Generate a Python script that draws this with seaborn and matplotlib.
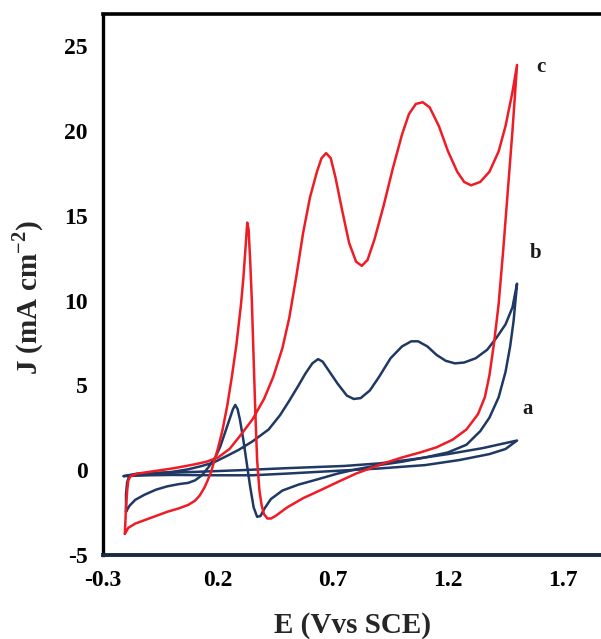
import numpy as np
import pandas as pd
import seaborn as sns
import matplotlib
matplotlib.use("Agg")
import matplotlib.pyplot as plt

# curve c (red), closed loop: lower branch left->right, then upper branch right->left
E_c = [-0.205, -0.19, -0.16, -0.12, -0.06, -0.02, 0.03, 0.07, 0.10, 0.12, 0.14, 0.155,
       0.17, 0.185, 0.20, 0.22, 0.24, 0.26, 0.28, 0.30, 0.31, 0.32, 0.327, 0.333, 0.34,
       0.347, 0.355, 0.362, 0.37, 0.38, 0.39, 0.40, 0.415, 0.43, 0.45, 0.50, 0.57, 0.65,
       0.72, 0.80, 0.85, 0.92, 1.00, 1.08, 1.15, 1.22, 1.28, 1.33, 1.36, 1.38, 1.40, 1.42,
       1.44, 1.46, 1.48, 1.50,
       1.48, 1.45, 1.42, 1.38, 1.34, 1.30, 1.27, 1.24, 1.20, 1.16, 1.12, 1.09, 1.06, 1.03,
       1.00, 0.96, 0.92, 0.88, 0.85, 0.825, 0.80, 0.77, 0.74, 0.71, 0.69, 0.67, 0.65, 0.63,
       0.60, 0.57, 0.54, 0.51, 0.48, 0.44, 0.40, 0.35, 0.30, 0.25, 0.20, 0.15, 0.10, 0.05,
       0.0, -0.05, -0.10, -0.15, -0.18, -0.19, -0.195, -0.20, -0.205]
J_c = [-3.75, -3.4, -3.15, -2.95, -2.65, -2.45, -2.25, -2.05, -1.8, -1.5, -1.05, -0.6,
       -0.1, 0.6, 1.3, 2.4, 3.8, 5.5, 7.4, 9.8, 11.3, 13.2, 14.6, 14.2, 12.3,
       10.0, 6.5, 3.5, 0.6, -1.2, -2.1, -2.6, -2.85, -2.85, -2.7, -2.2, -1.65, -1.15,
       -0.7, -0.2, 0.05, 0.4, 0.75, 1.05, 1.35, 1.8, 2.4, 3.3, 4.3, 5.6, 7.5, 9.8,
       13.0, 16.5, 20.0, 23.9,
       22.3, 20.3, 18.8, 17.6, 17.0, 16.8, 17.0, 17.6, 18.8, 20.3, 21.4, 21.7, 21.6, 21.0,
       19.8, 17.8, 15.6, 13.6, 12.4, 12.05, 12.3, 13.4, 15.3, 17.3, 18.4, 18.7, 18.4, 17.6,
       16.1, 14.0, 11.4, 9.0, 7.2, 5.5, 4.2, 3.0, 2.1, 1.25, 0.75, 0.5, 0.35, 0.22,
       0.1, 0.0, -0.1, -0.2, -0.35, -0.6, -1.2, -2.2, -3.75]

# curve b (navy)
E_b = [-0.20, -0.185, -0.16, -0.12, -0.07, -0.02, 0.03, 0.07, 0.10, 0.13, 0.16, 0.19,
       0.21, 0.23, 0.25, 0.265, 0.275, 0.285, 0.295, 0.31, 0.325, 0.34, 0.355, 0.37,
       0.385, 0.40, 0.43, 0.48, 0.55, 0.63, 0.72, 0.80, 0.90, 1.00, 1.10, 1.20, 1.28,
       1.34, 1.38, 1.42, 1.45, 1.47, 1.485, 1.50,
       1.48, 1.45, 1.41, 1.37, 1.32, 1.27, 1.23, 1.19, 1.15, 1.11, 1.07, 1.04, 1.00, 0.95,
       0.90, 0.86, 0.82, 0.79, 0.76, 0.72, 0.68, 0.655, 0.635, 0.61, 0.58, 0.55, 0.51,
       0.47, 0.42, 0.35, 0.29, 0.24, 0.18, 0.13, 0.07, 0.0, -0.08, -0.15, -0.185, -0.195,
       -0.20, -0.20]
J_b = [-2.45, -2.1, -1.75, -1.45, -1.15, -0.95, -0.82, -0.75, -0.6, -0.3, 0.2, 0.8,
       1.4, 2.2, 3.0, 3.6, 3.85, 3.6, 3.0, 1.8, 0.4, -1.0, -2.2, -2.75,
       -2.7, -2.3, -1.7, -1.2, -0.85, -0.55, -0.2, 0.05, 0.3, 0.5, 0.75, 1.05, 1.5,
       2.3, 3.1, 4.3, 5.8, 7.3, 8.8, 11.0,
       9.6, 8.6, 7.8, 7.1, 6.6, 6.35, 6.3, 6.45, 6.8, 7.3, 7.6, 7.6, 7.3, 6.6,
       5.5, 4.7, 4.25, 4.2, 4.4, 5.1, 5.9, 6.4, 6.55, 6.3, 5.7, 5.0, 4.1,
       3.25, 2.4, 1.7, 1.2, 0.85, 0.45, 0.25, 0.05, -0.1, -0.2, -0.25, -0.3, -0.7,
       -1.4, -2.45]

# curve a (navy, small loop)
E_a = [-0.21, -0.10, 0.0, 0.2, 0.35, 0.5, 0.7, 0.9, 1.1, 1.25, 1.38, 1.45, 1.50,
       1.45, 1.35, 1.2, 1.05, 0.9, 0.75, 0.5, 0.3, 0.1, -0.05, -0.15, -0.21]
J_a = [-0.35, -0.3, -0.28, -0.3, -0.3, -0.2, -0.05, 0.1, 0.3, 0.6, 0.95, 1.25, 1.75,
       1.6, 1.3, 0.95, 0.65, 0.4, 0.25, 0.12, 0.0, -0.1, -0.15, -0.2, -0.35]

curve_names = ["a", "b", "c"]
label_pos_E = [1.525, 1.555, 1.585]
label_pos_J = [3.6, 12.8, 23.8]

red = "#ee1c25"
navy = "#1f3864"

sns.set_style("white")
plt.rcParams["font.family"] = ["Liberation Serif", "DejaVu Serif"]
plt.rcParams["font.weight"] = "bold"
plt.rcParams["mathtext.fontset"] = "custom"
plt.rcParams["mathtext.rm"] = "Liberation Serif:bold"
plt.rcParams["mathtext.bf"] = "Liberation Serif:bold"

fig = plt.figure(figsize=(6.01, 6.39), dpi=100)
ax = fig.add_axes([0.1714, 0.1315, 0.8286, 0.8465])

sns.lineplot(x=E_a, y=J_a, sort=False, estimator=None, color=navy, lw=1.8, ax=ax)
sns.lineplot(x=E_b, y=J_b, sort=False, estimator=None, color=navy, lw=1.8, ax=ax)
sns.lineplot(x=E_c, y=J_c, sort=False, estimator=None, color=red, lw=1.8, ax=ax)

for name, xe, yj in zip(curve_names, label_pos_E, label_pos_J):
    ax.text(xe, yj, name, fontsize=15, fontweight="bold", ha="left", va="center",
            color="#1a1a1a")

ax.set_xlim(-0.3, 1.865)
ax.set_ylim(-5, 26.9)
ax.set_xticks([-0.3, 0.2, 0.7, 1.2, 1.7])
ax.set_xticklabels(["-0.3", "0.2", "0.7", "1.2", "1.7"])
ax.set_yticks([-5, 0, 5, 10, 15, 20, 25])
ax.set_yticklabels(["-5", "0", "5", "10", "15", "20", "25"])

ax.tick_params(axis="both", direction="out", labelsize=17, width=2.2, colors="black")
ax.tick_params(axis="x", length=5, pad=6)
ax.tick_params(axis="y", length=6, pad=5)
for lab in ax.get_xticklabels() + ax.get_yticklabels():
    lab.set_fontweight("bold")

ax.spines["right"].set_visible(False)
ax.spines["left"].set_linewidth(2.4)
ax.spines["top"].set_linewidth(2.6)
ax.spines["bottom"].set_linewidth(2.8)
ax.spines["bottom"].set_color("#1b2a41")
ax.spines["left"].set_color("black")
ax.spines["top"].set_color("black")

ax.set_xlabel("E (Vvs SCE)", fontsize=21, fontweight="bold", labelpad=15)
ax.set_ylabel("J (mA cm$^{-2}$)", fontsize=21, fontweight="bold")
ax.yaxis.set_label_coords(-0.115, 0.475)

fig.savefig("out.png", dpi=100)
